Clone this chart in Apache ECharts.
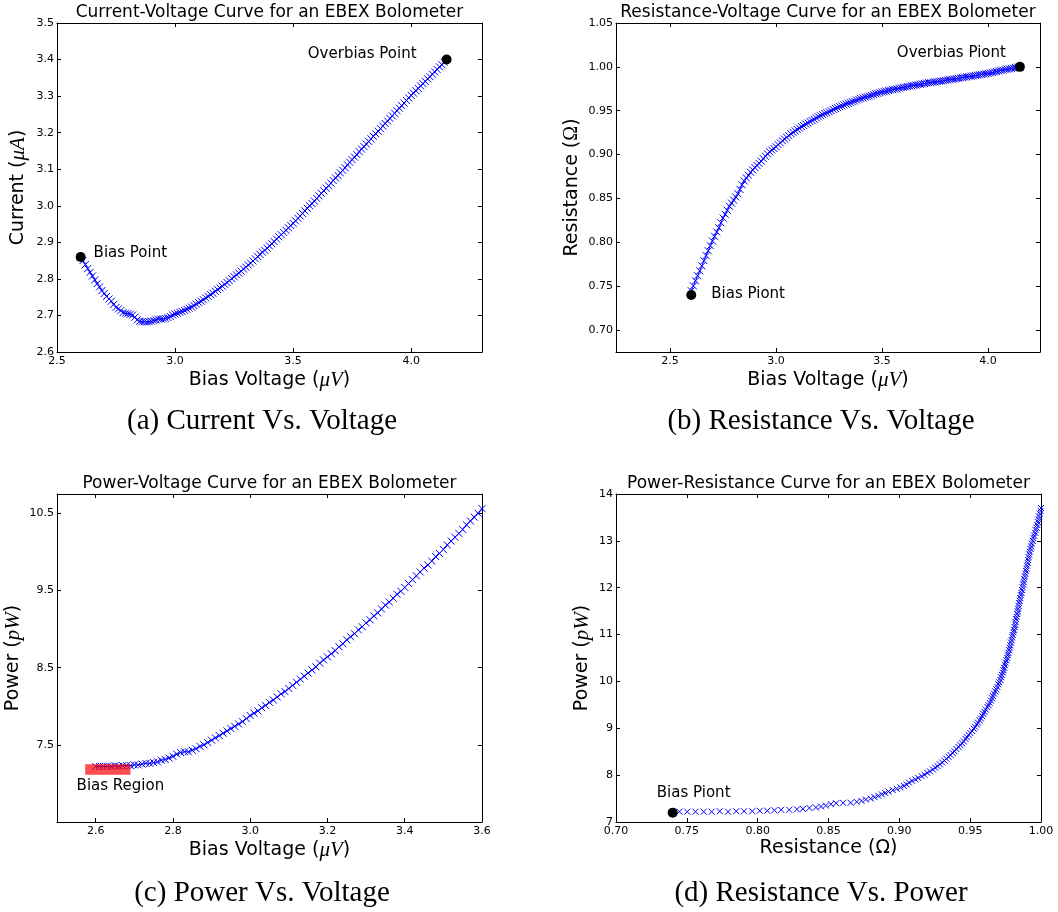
<!DOCTYPE html>
<html>
<head>
<meta charset="utf-8">
<script src="https://cdn.jsdelivr.net/npm/echarts@6/dist/echarts.min.js"></script>
<style>
html, body { margin: 0; padding: 0; background: #fff; }
#chart { width: 1058px; height: 912px; }
</style>
</head>
<body>
<div id="chart"></div>
<script>
// Bias voltage sweep (uV)
const voltage = [
  2.60, 2.61, 2.62, 2.63, 2.64, 2.65, 2.66, 2.67, 2.68, 2.69,
  2.70, 2.71, 2.72, 2.73, 2.74, 2.75, 2.76, 2.77, 2.78, 2.79,
  2.80, 2.81, 2.82, 2.83, 2.84, 2.85, 2.86, 2.87, 2.88, 2.89,
  2.90, 2.91, 2.92, 2.93, 2.94, 2.95, 2.96, 2.97, 2.98, 2.99,
  3.00, 3.01, 3.02, 3.03, 3.04, 3.05, 3.06, 3.07, 3.08, 3.09,
  3.10, 3.11, 3.12, 3.13, 3.14, 3.15, 3.16, 3.17, 3.18, 3.19,
  3.20, 3.21, 3.22, 3.23, 3.24, 3.25, 3.26, 3.27, 3.28, 3.29,
  3.30, 3.31, 3.32, 3.33, 3.34, 3.35, 3.36, 3.37, 3.38, 3.39,
  3.40, 3.41, 3.42, 3.43, 3.44, 3.45, 3.46, 3.47, 3.48, 3.49,
  3.50, 3.51, 3.52, 3.53, 3.54, 3.55, 3.56, 3.57, 3.58, 3.59,
  3.60, 3.61, 3.62, 3.63, 3.64, 3.65, 3.66, 3.67, 3.68, 3.69,
  3.70, 3.71, 3.72, 3.73, 3.74, 3.75, 3.76, 3.77, 3.78, 3.79,
  3.80, 3.81, 3.82, 3.83, 3.84, 3.85, 3.86, 3.87, 3.88, 3.89,
  3.90, 3.91, 3.92, 3.93, 3.94, 3.95, 3.96, 3.97, 3.98, 3.99,
  4.00, 4.01, 4.02, 4.03, 4.04, 4.05, 4.06, 4.07, 4.08, 4.09,
  4.10, 4.11, 4.12, 4.13, 4.14, 4.15
];

// TES current (uA)
const current = [
  2.860, 2.850, 2.839, 2.828, 2.818, 2.808, 2.797, 2.787, 2.778, 2.768,
  2.760, 2.752, 2.745, 2.739, 2.730, 2.722, 2.718, 2.713, 2.708, 2.706,
  2.705, 2.703, 2.701, 2.695, 2.688, 2.684, 2.683, 2.683, 2.682, 2.683,
  2.684, 2.686, 2.688, 2.690, 2.690, 2.691, 2.692, 2.694, 2.697, 2.701,
  2.704, 2.706, 2.709, 2.711, 2.714, 2.717, 2.720, 2.723, 2.727, 2.731,
  2.735, 2.739, 2.743, 2.748, 2.752, 2.757, 2.761, 2.766, 2.771, 2.775,
  2.780, 2.785, 2.790, 2.795, 2.801, 2.806, 2.811, 2.816, 2.821, 2.827,
  2.832, 2.838, 2.843, 2.849, 2.855, 2.861, 2.867, 2.873, 2.878, 2.884,
  2.890, 2.896, 2.902, 2.909, 2.915, 2.921, 2.927, 2.933, 2.940, 2.946,
  2.952, 2.959, 2.966, 2.972, 2.979, 2.986, 2.993, 3.000, 3.006, 3.013,
  3.020, 3.027, 3.034, 3.041, 3.048, 3.055, 3.062, 3.069, 3.076, 3.083,
  3.090, 3.097, 3.104, 3.112, 3.119, 3.126, 3.133, 3.140, 3.148, 3.155,
  3.162, 3.169, 3.176, 3.183, 3.190, 3.197, 3.204, 3.211, 3.218, 3.225,
  3.232, 3.239, 3.246, 3.253, 3.260, 3.267, 3.274, 3.281, 3.288, 3.295,
  3.302, 3.308, 3.315, 3.321, 3.328, 3.334, 3.340, 3.347, 3.353, 3.360,
  3.366, 3.373, 3.380, 3.386, 3.393, 3.400
];

// Resistance normalised to the overbias value (Ohm)
const resistance = [
  0.7448, 0.7503, 0.7561, 0.7619, 0.7675, 0.7732, 0.7791, 0.7849, 0.7904, 0.7962,
  0.8015, 0.8068, 0.8118, 0.8166, 0.8223, 0.8277, 0.8319, 0.8365, 0.8411, 0.8447,
  0.8481, 0.8517, 0.8554, 0.8603, 0.8656, 0.8699, 0.8733, 0.8764, 0.8798, 0.8825,
  0.8852, 0.8876, 0.8900, 0.8924, 0.8954, 0.8981, 0.9008, 0.9032, 0.9052, 0.9069,
  0.9090, 0.9113, 0.9133, 0.9157, 0.9177, 0.9197, 0.9217, 0.9237, 0.9253, 0.9270,
  0.9286, 0.9302, 0.9319, 0.9332, 0.9348, 0.9361, 0.9377, 0.9389, 0.9402, 0.9418,
  0.9431, 0.9443, 0.9455, 0.9468, 0.9477, 0.9489, 0.9501, 0.9514, 0.9526, 0.9535,
  0.9547, 0.9555, 0.9567, 0.9576, 0.9585, 0.9593, 0.9602, 0.9610, 0.9622, 0.9630,
  0.9638, 0.9647, 0.9655, 0.9660, 0.9668, 0.9676, 0.9685, 0.9693, 0.9698, 0.9706,
  0.9714, 0.9718, 0.9723, 0.9731, 0.9736, 0.9740, 0.9745, 0.9749, 0.9757, 0.9762,
  0.9766, 0.9771, 0.9775, 0.9780, 0.9784, 0.9788, 0.9793, 0.9797, 0.9801, 0.9806,
  0.9810, 0.9814, 0.9819, 0.9820, 0.9824, 0.9828, 0.9832, 0.9837, 0.9838, 0.9842,
  0.9846, 0.9850, 0.9854, 0.9858, 0.9862, 0.9866, 0.9870, 0.9874, 0.9878, 0.9882,
  0.9886, 0.9890, 0.9894, 0.9898, 0.9902, 0.9906, 0.9909, 0.9913, 0.9917, 0.9921,
  0.9925, 0.9931, 0.9935, 0.9942, 0.9946, 0.9952, 0.9959, 0.9962, 0.9969, 0.9973,
  0.9979, 0.9983, 0.9986, 0.9993, 0.9997, 1.0000
];

// Joule power (pW)
const power = [
  7.22, 7.22, 7.22, 7.22, 7.22, 7.23, 7.22, 7.23, 7.23, 7.23,
  7.24, 7.24, 7.25, 7.26, 7.26, 7.27, 7.28, 7.30, 7.31, 7.33,
  7.35, 7.38, 7.40, 7.41, 7.41, 7.43, 7.45, 7.48, 7.50, 7.53,
  7.56, 7.59, 7.62, 7.65, 7.68, 7.71, 7.74, 7.77, 7.80, 7.84,
  7.88, 7.91, 7.94, 7.98, 8.01, 8.05, 8.08, 8.12, 8.16, 8.19,
  8.23, 8.27, 8.31, 8.35, 8.39, 8.43, 8.47, 8.51, 8.56, 8.60,
  8.64, 8.68, 8.72, 8.77, 8.81, 8.86, 8.90, 8.94, 8.99, 9.03,
  9.08, 9.12, 9.17, 9.21, 9.26, 9.31, 9.35, 9.40, 9.45, 9.49,
  9.54, 9.59, 9.64, 9.69, 9.74, 9.79, 9.83, 9.88, 9.94, 9.98,
  10.03, 10.09, 10.14, 10.19, 10.24, 10.29, 10.35, 10.40, 10.45, 10.50,
  10.56, 10.61, 10.67, 10.72, 10.77, 10.83, 10.88, 10.94, 10.99, 11.05,
  11.10, 11.16, 11.21, 11.27, 11.33, 11.38, 11.44, 11.49, 11.55, 11.61,
  11.67, 11.72, 11.78, 11.84, 11.89, 11.95, 12.01, 12.07, 12.12, 12.18,
  12.24, 12.30, 12.36, 12.41, 12.47, 12.53, 12.59, 12.65, 12.71, 12.77,
  12.83, 12.88, 12.94, 13.00, 13.06, 13.11, 13.17, 13.23, 13.28, 13.34,
  13.40, 13.46, 13.52, 13.58, 13.64, 13.70
];

// Annotated operating points
const ivPoints = [[2.6, 2.86], [4.15, 3.4]];
const ivNotes = ['Bias Point', 'Overbias Point'];
const rvPoints = [[2.6, 0.74], [4.15, 1.0]];
const rvNotes = ['Bias Piont', 'Overbias Piont'];
const prPoints = [[0.74, 7.2]];
const prNotes = ['Bias Piont'];
// Bias region band: [v0, v1, p0, p1]
const biasRegion = [[2.573, 2.69, 7.112, 7.249]];
const biasRegionNote = 'Bias Region';

// Axis extents and tick values
const ivXRange = [2.5, 4.3];   const ivXTicks = [2.5, 3.0, 3.5, 4.0];
const ivYRange = [2.6, 3.5];   const ivYTicks = [2.6, 2.7, 2.8, 2.9, 3.0, 3.1, 3.2, 3.3, 3.4, 3.5];
const rvXRange = [2.245, 4.245]; const rvXTicks = [2.5, 3.0, 3.5, 4.0];
const rvYRange = [0.675, 1.05]; const rvYTicks = [0.70, 0.75, 0.80, 0.85, 0.90, 0.95, 1.00, 1.05];
const pvXRange = [2.5, 3.6];   const pvXTicks = [2.6, 2.8, 3.0, 3.2, 3.4, 3.6];
const pvYRange = [6.5, 10.75]; const pvYTicks = [7.5, 8.5, 9.5, 10.5];
const prXRange = [0.70, 1.00]; const prXTicks = [0.70, 0.75, 0.80, 0.85, 0.90, 0.95, 1.00];
const prYRange = [7, 14];      const prYTicks = [7, 8, 9, 10, 11, 12, 13, 14];

const SANS = 'DejaVu Sans';
const SERIF = 'Liberation Serif';
const BLUE = '#0000ff';
const CROSS = 'path://M0,0L10,10M10,0L0,10';

const nameRich = {
  n: { fontFamily: SANS, fontSize: 19, color: '#000' },
  m: { fontFamily: SERIF, fontStyle: 'italic', fontSize: 21, color: '#000' },
  g: { fontFamily: SERIF, fontSize: 20, color: '#000' }
};

function axisPair(dim, gridIndex, range, ticks, digits, name, nameGap) {
  const base = () => ({
    type: 'value', gridIndex: gridIndex, min: range[0], max: range[1],
    splitLine: { show: false },
    axisLine: { show: true, onZero: false, lineStyle: { color: '#000', width: 1 } },
    axisTick: { show: true, inside: true, length: 4, customValues: ticks, lineStyle: { color: '#000', width: 1 } }
  });
  const main = Object.assign(base(), {
    position: dim === 'x' ? 'bottom' : 'left',
    axisLabel: {
      show: true, customValues: ticks, margin: dim === 'x' ? 4 : 3,
      formatter: v => Number(v).toFixed(digits),
      fontFamily: SANS, fontSize: 11, color: '#000'
    },
    name: name, nameLocation: 'middle', nameGap: nameGap, nameMoveOverlap: false,
    nameTextStyle: { fontFamily: SANS, fontSize: 19, color: '#000', rich: nameRich }
  });
  const mirror = Object.assign(base(), {
    position: dim === 'x' ? 'top' : 'right',
    axisLabel: { show: false }
  });
  return [main, mirror];
}

const xAxes = [].concat(
  axisPair('x', 0, ivXRange, ivXTicks, 1, '{n|Bias Voltage (}{m|μV}{n|)}', 18),
  axisPair('x', 1, rvXRange, rvXTicks, 1, '{n|Bias Voltage (}{m|μV}{n|)}', 18),
  axisPair('x', 2, pvXRange, pvXTicks, 1, '{n|Bias Voltage (}{m|μV}{n|)}', 18),
  axisPair('x', 3, prXRange, prXTicks, 2, '{n|Resistance (Ω)}', 17)
);
const yAxes = [].concat(
  axisPair('y', 0, ivYRange, ivYTicks, 1, '{n|Current (}{m|μA}{n|)}', 28),
  axisPair('y', 1, rvYRange, rvYTicks, 2, '{n|Resistance (}{g|Ω}{n|)}', 34),
  axisPair('y', 2, pvYRange, pvYTicks, 1, '{n|Power (}{m|pW}{n|)}', 33),
  axisPair('y', 3, prYRange, prYTicks, 0, '{n|Power (}{m|pW}{n|)}', 23)
);

const pairs = (xs, ys) => xs.map((x, i) => [x, ys[i]]);

const curveStyle = {
  type: 'line', symbol: CROSS, symbolSize: 7, showSymbol: true, clip: true, z: 2,
  lineStyle: { color: BLUE, width: 1 },
  itemStyle: { color: BLUE, borderColor: BLUE, borderWidth: 1, opacity: 1 },
  emphasis: { disabled: true }, silent: true, animation: false
};

function markedSeries(axisIndex, points, notes, labels) {
  return {
    type: 'scatter', xAxisIndex: axisIndex, yAxisIndex: axisIndex, z: 5,
    symbol: 'circle', symbolSize: 10, itemStyle: { color: '#000', opacity: 1 }, silent: true,
    emphasis: { disabled: true },
    label: { show: true, formatter: '{b}', fontFamily: SANS, fontSize: 15, color: '#000', opacity: 1 },
    data: points.map((p, i) => ({ value: p, name: notes[i], label: labels[i] }))
  };
}

const option = {
  animation: false,
  backgroundColor: '#fff',
  grid: [
    { left: 57, top: 23, width: 425, height: 329, outerBoundsMode: 'none' },
    { left: 616, top: 23, width: 424, height: 329, outerBoundsMode: 'none' },
    { left: 57, top: 494, width: 425, height: 328, outerBoundsMode: 'none' },
    { left: 616, top: 494, width: 425, height: 328, outerBoundsMode: 'none' }
  ],
  xAxis: xAxes,
  yAxis: yAxes,
  graphic: [
    { type: 'text', x: 269.5, y: 13, style: { text: 'Current-Voltage Curve for an EBEX Bolometer', font: '17px "DejaVu Sans"', fill: '#000', align: 'center', verticalAlign: 'middle' } },
    { type: 'text', x: 828, y: 13, style: { text: 'Resistance-Voltage Curve for an EBEX Bolometer', font: '17px "DejaVu Sans"', fill: '#000', align: 'center', verticalAlign: 'middle' } },
    { type: 'text', x: 269.5, y: 483.5, style: { text: 'Power-Voltage Curve for an EBEX Bolometer', font: '17px "DejaVu Sans"', fill: '#000', align: 'center', verticalAlign: 'middle' } },
    { type: 'text', x: 828.5, y: 483.5, style: { text: 'Power-Resistance Curve for an EBEX Bolometer', font: '17px "DejaVu Sans"', fill: '#000', align: 'center', verticalAlign: 'middle' } },
    { type: 'text', x: 262, y: 421, style: { text: '(a) Current Vs. Voltage', font: '29px "Liberation Serif"', fill: '#000', align: 'center', verticalAlign: 'middle' } },
    { type: 'text', x: 821, y: 421, style: { text: '(b) Resistance Vs. Voltage', font: '29px "Liberation Serif"', fill: '#000', align: 'center', verticalAlign: 'middle' } },
    { type: 'text', x: 262, y: 893, style: { text: '(c) Power Vs. Voltage', font: '29px "Liberation Serif"', fill: '#000', align: 'center', verticalAlign: 'middle' } },
    { type: 'text', x: 821, y: 893, style: { text: '(d) Resistance Vs. Power', font: '29px "Liberation Serif"', fill: '#000', align: 'center', verticalAlign: 'middle' } }
  ],
  series: [
    Object.assign({}, curveStyle, { name: 'I-V', xAxisIndex: 0, yAxisIndex: 0, data: pairs(voltage, current) }),
    Object.assign({}, curveStyle, { name: 'R-V', xAxisIndex: 2, yAxisIndex: 2, data: pairs(voltage, resistance) }),
    Object.assign({}, curveStyle, { name: 'P-V', xAxisIndex: 4, yAxisIndex: 4, data: pairs(voltage, power) }),
    {
      name: 'P-R', type: 'scatter', xAxisIndex: 6, yAxisIndex: 6, z: 2, clip: true,
      symbol: CROSS, symbolSize: 6, silent: true, emphasis: { disabled: true },
      itemStyle: { color: BLUE, borderColor: BLUE, borderWidth: 1, opacity: 1 },
      data: pairs(resistance, power)
    },
    markedSeries(0, ivPoints, ivNotes, [
      { position: 'right', distance: 8, offset: [0, -4] },
      { position: 'left', distance: 25, offset: [0, -5] }
    ]),
    markedSeries(2, rvPoints, rvNotes, [
      { position: 'right', distance: 15, offset: [0, -1] },
      { position: 'left', distance: 9, offset: [0, -14] }
    ]),
    markedSeries(6, prPoints, prNotes, [
      { position: 'top', distance: 7, offset: [21, 0] }
    ]),
    {
      name: 'Bias Region', type: 'custom', xAxisIndex: 4, yAxisIndex: 4, z: 4, silent: true,
      encode: { x: [0, 1], y: [2, 3] },
      data: biasRegion,
      renderItem: function (params, api) {
        const tl = api.coord([api.value(0), api.value(3)]);
        const br = api.coord([api.value(1), api.value(2)]);
        return {
          type: 'group',
          children: [
            { type: 'rect', shape: { x: tl[0], y: tl[1], width: br[0] - tl[0], height: br[1] - tl[1] },
              style: { fill: 'rgba(255,0,0,0.7)' } },
            { type: 'text', x: tl[0] - 8.6, y: br[1] + 11,
              style: { text: biasRegionNote, font: '15px "DejaVu Sans"', fill: '#000', align: 'left', verticalAlign: 'middle' } }
          ]
        };
      }
    }
  ]
};

const chart = echarts.init(document.getElementById('chart'), null, { renderer: 'canvas' });
chart.setOption(option);
</script>
</body>
</html>
